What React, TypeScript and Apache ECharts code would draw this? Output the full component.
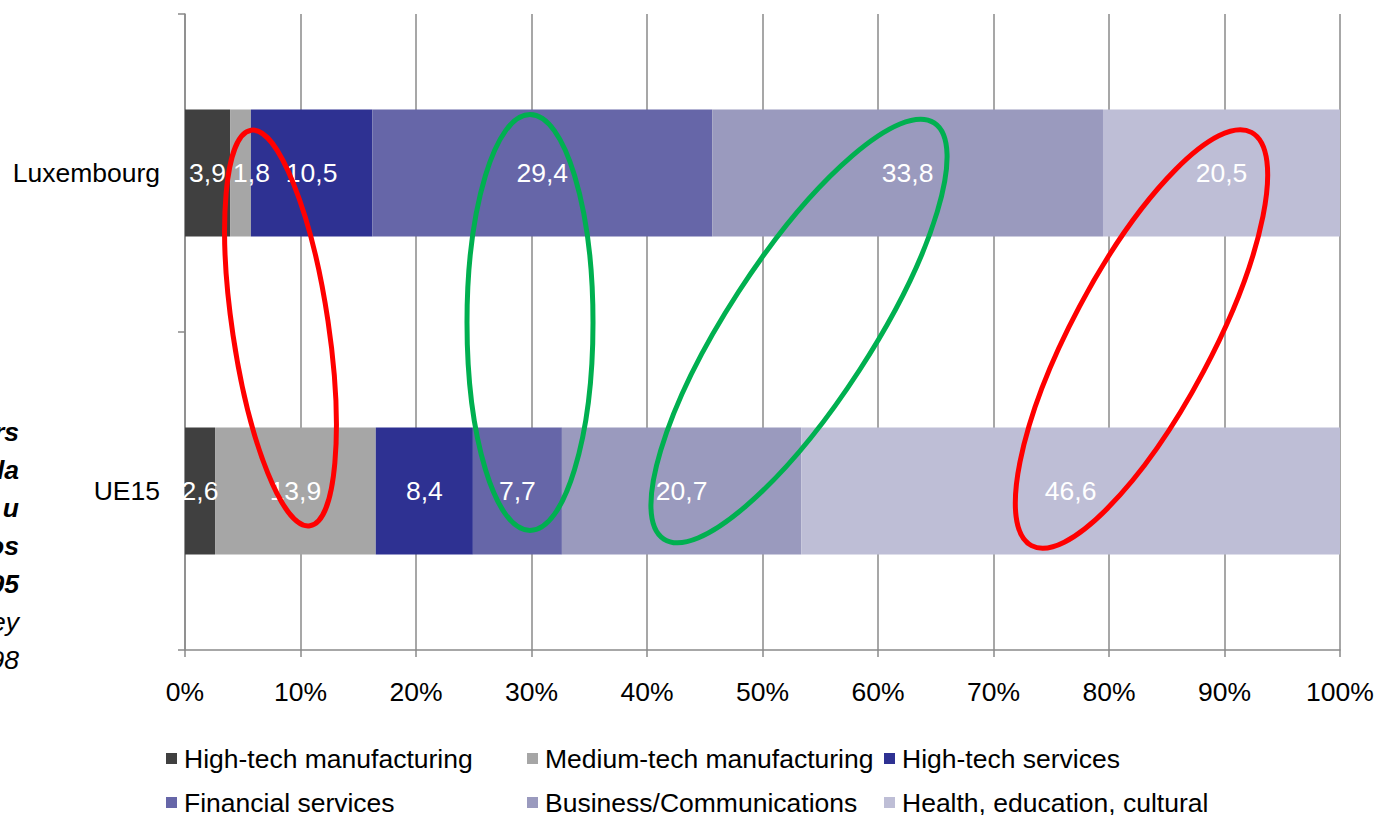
import React, { useEffect, useRef } from "react";
import * as echarts from "echarts";

const categories = ["Luxembourg", "UE15"];
const seriesNames = [
  "High-tech manufacturing",
  "Medium-tech manufacturing",
  "High-tech services",
  "Financial services",
  "Business/Communications",
  "Health, education, cultural",
];
const highTechManufacturing = [3.9, 2.6];
const mediumTechManufacturing = [1.8, 13.9];
const highTechServices = [10.5, 8.4];
const financialServices = [29.4, 7.7];
const businessCommunications = [33.8, 20.7];
const healthEducationCultural = [20.5, 46.6];
const seriesValues = [
  highTechManufacturing,
  mediumTechManufacturing,
  highTechServices,
  financialServices,
  businessCommunications,
  healthEducationCultural,
];
const colors = ["#404040", "#A6A6A6", "#2E3192", "#6666A8", "#9A9ABE", "#BEBED6"];
const sideTextBold = ["rs", "la", "u", "os", "95"];
const sideTextItalic = ["ey", "98"];

const FONT = "'Liberation Sans', Arial, sans-serif";
const FS = 26.5;

export default function App() {
  const ref = useRef<HTMLDivElement>(null);
  useEffect(() => {
    if (!ref.current) return;
    const chart = echarts.init(ref.current, undefined, { renderer: "svg" });
    const totals = categories.map((_, ci) =>
      seriesValues.reduce((s, arr) => s + arr[ci], 0)
    );
    const series = seriesNames.map((name, si) => ({
      name,
      type: "bar",
      stack: "total",
      barWidth: "40%",
      itemStyle: { color: colors[si] },
      label: {
        show: true,
        position: "inside",
        color: "#FFFFFF",
        fontSize: FS,
        fontFamily: FONT,
        formatter: (p: any) =>
          String(seriesValues[si][p.dataIndex]).replace(".", ","),
      },
      data: seriesValues[si].map((v, ci) => {
        const item: any = { value: (v / totals[ci]) * 100 };
        if (si === 1 && ci === 0) item.label = { offset: [11, 0] };
        return item;
      }),
    }));

    const legendCols = [166, 527, 884];
    const legendRows = [745, 789];
    const legends = seriesNames.map((name, i) => ({
      data: [name],
      left: legendCols[i % 3],
      top: legendRows[Math.floor(i / 3)],
      padding: 0,
      itemWidth: 11,
      itemHeight: 11,
      icon: "rect",
      selectedMode: false,
      textStyle: { fontSize: FS, fontFamily: FONT, color: "#000", padding: [0, 0, 0, 2] },
    }));

    const ellipses = [
      { x: 280.5, y: 328, rx: 48, ry: 200, rot: 0.148, color: "#FF0000" },
      { x: 530, y: 322.5, rx: 63, ry: 208, rot: 0, color: "#00B050" },
      { x: 799, y: 331, rx: 72, ry: 248, rot: -0.576, color: "#00B050" },
      { x: 1141.5, y: 339, rx: 70, ry: 234, rot: -0.489, color: "#FF0000" },
    ];

    const sideTexts = [
      ...sideTextBold.map((t, i) => ({ t, bold: true, i })),
      ...sideTextItalic.map((t, i) => ({ t, bold: false, i: i + sideTextBold.length })),
    ];

    chart.setOption({
      animation: false,
      color: colors,
      grid: { left: 185, right: 37, top: 14, bottom: 165, containLabel: false },
      xAxis: {
        type: "value",
        min: 0,
        max: 100,
        interval: 10,
        axisLine: { show: true, lineStyle: { color: "#8A8A8A", width: 1.5 } },
        axisTick: { show: true, length: 7, lineStyle: { color: "#8A8A8A", width: 1.5 } },
        splitLine: { show: true, lineStyle: { color: "#8A8A8A", width: 1.5 } },
        axisLabel: {
          formatter: "{value}%",
          fontSize: FS,
          fontFamily: FONT,
          color: "#000",
          margin: 28,
        },
      },
      yAxis: {
        type: "category",
        inverse: true,
        data: categories,
        axisLine: { show: true, lineStyle: { color: "#8A8A8A", width: 1.5 } },
        axisTick: { show: true, length: 7, lineStyle: { color: "#8A8A8A", width: 1.5 } },
        axisLabel: { fontSize: FS, fontFamily: FONT, color: "#000", margin: 25 },
      },
      legend: legends,
      series,
      graphic: [
        ...ellipses.map((e) => ({
          type: "ellipse",
          x: e.x,
          y: e.y,
          rotation: e.rot,
          shape: { cx: 0, cy: 0, rx: e.rx, ry: e.ry },
          style: { fill: "none", stroke: e.color, lineWidth: 5 },
          z: 100,
          silent: true,
        })),
        ...sideTexts.map((s) => ({
          type: "text",
          x: 19,
          y: 432 + s.i * 38,
          style: {
            text: s.t,
            fill: "#000",
            fontSize: FS,
            fontFamily: FONT,
            fontStyle: "italic",
            fontWeight: s.bold ? "bold" : "normal",
            align: "right",
            verticalAlign: "middle",
          },
        })),
      ],
    });
    return () => chart.dispose();
  }, []);
  return (
    <div
      ref={ref}
      style={{ position: "absolute", left: 0, top: 0, width: 1377, height: 815, background: "#fff" }}
    />
  );
}
